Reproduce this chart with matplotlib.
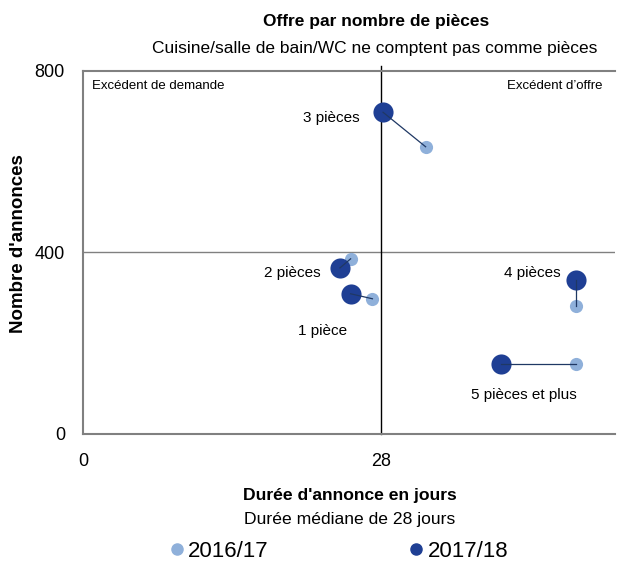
import matplotlib
matplotlib.use("Agg")
import matplotlib.pyplot as plt
from matplotlib.lines import Line2D

plt.rcParams['font.family'] = ['Liberation Sans Narrow', 'Liberation Sans', 'DejaVu Sans']

# Données
categories = ['1 pièce', '2 pièces', '3 pièces', '4 pièces', '5 pièces et plus']
duree_1617 = [27.2, 25.15, 32.2, 46.3, 46.3]
annonces_1617 = [298, 386, 633, 281, 154]
duree_1718 = [25.15, 24.15, 28.2, 46.3, 39.3]
annonces_1718 = [309, 366, 709, 340, 154]
mediane = 28

# position des étiquettes (décalage en points, alignement)
label_pos = [((-20, -27), 'center'), ((-14, -4), 'right'), ((-17, -4), 'right'),
             ((-11, 5), 'right'), ((16, -22), 'center')]

c_1617 = '#8fb0da'
c_1718 = '#1f3f94'
c_line = '#1f3864'
gris = '#808080'

fig = plt.figure(figsize=(6.17, 5.67), dpi=100)
ax = fig.add_axes([0.1345, 0.2346, 0.8623, 0.6402])
ax.set_xlim(0, 50)
ax.set_ylim(0, 800)

ax.axhline(400, color=gris, lw=1, zorder=1)
ax.plot([mediane, mediane], [0, 810], color='black', lw=1, clip_on=False, zorder=1)

ax.scatter(duree_1617, annonces_1617, s=90, color=c_1617, zorder=3, linewidths=0)
ax.scatter(duree_1718, annonces_1718, s=210, color=c_1718, zorder=3, linewidths=0)
for i in range(len(categories)):
    ax.plot([duree_1718[i], duree_1617[i]], [annonces_1718[i], annonces_1617[i]],
            color=c_line, lw=0.9, zorder=4)
    (dx, dy), ha = label_pos[i]
    ax.annotate(categories[i], (duree_1718[i], annonces_1718[i]), xytext=(dx, dy),
                textcoords='offset points', ha=ha, va='center', fontsize=11)

ax.text(0.017, 0.975, 'Excédent de demande', transform=ax.transAxes, fontsize=9.5, va='top')
ax.text(0.976, 0.975, 'Excédent d\u2019offre', transform=ax.transAxes, fontsize=9.5, va='top', ha='right')

for s in ['left', 'bottom', 'top']:
    ax.spines[s].set_color(gris)
    ax.spines[s].set_linewidth(1.5)
ax.spines['right'].set_visible(False)

ax.set_xticks([0, mediane])
ax.set_yticks([0, 400, 800])
ax.tick_params(length=0, labelsize=13, pad=13)
ax.tick_params(axis='x', pad=14)
ax.set_ylabel("Nombre d'annonces", fontsize=13.5, fontweight='bold')
ax.yaxis.set_label_coords(-0.105, 0.525)

fig.text(0.61, 0.954, 'Offre par nombre de pièces', ha='center', fontsize=12.5, fontweight='bold')
fig.text(0.608, 0.907, 'Cuisine/salle de bain/WC ne comptent pas comme pièces', ha='center', fontsize=12.5)
fig.text(0.567, 0.118, "Durée d'annonce en jours", ha='center', fontsize=12.6, fontweight='bold')
fig.text(0.567, 0.075, 'Durée médiane de 28 jours', ha='center', fontsize=12.6)

handles = [Line2D([], [], ls='none', marker='o', ms=8, color=c_1617, label='2016/17'),
           Line2D([], [], ls='none', marker='o', ms=8, color=c_1718, label='2017/18')]
fig.legend(handles=handles, loc='center', bbox_to_anchor=(0.548, 0.027), ncol=2, frameon=False,
           fontsize=16, handletextpad=0.1, columnspacing=6.25, handlelength=0.8,
           borderpad=0, borderaxespad=0)

fig.savefig('out.png', dpi=100)
